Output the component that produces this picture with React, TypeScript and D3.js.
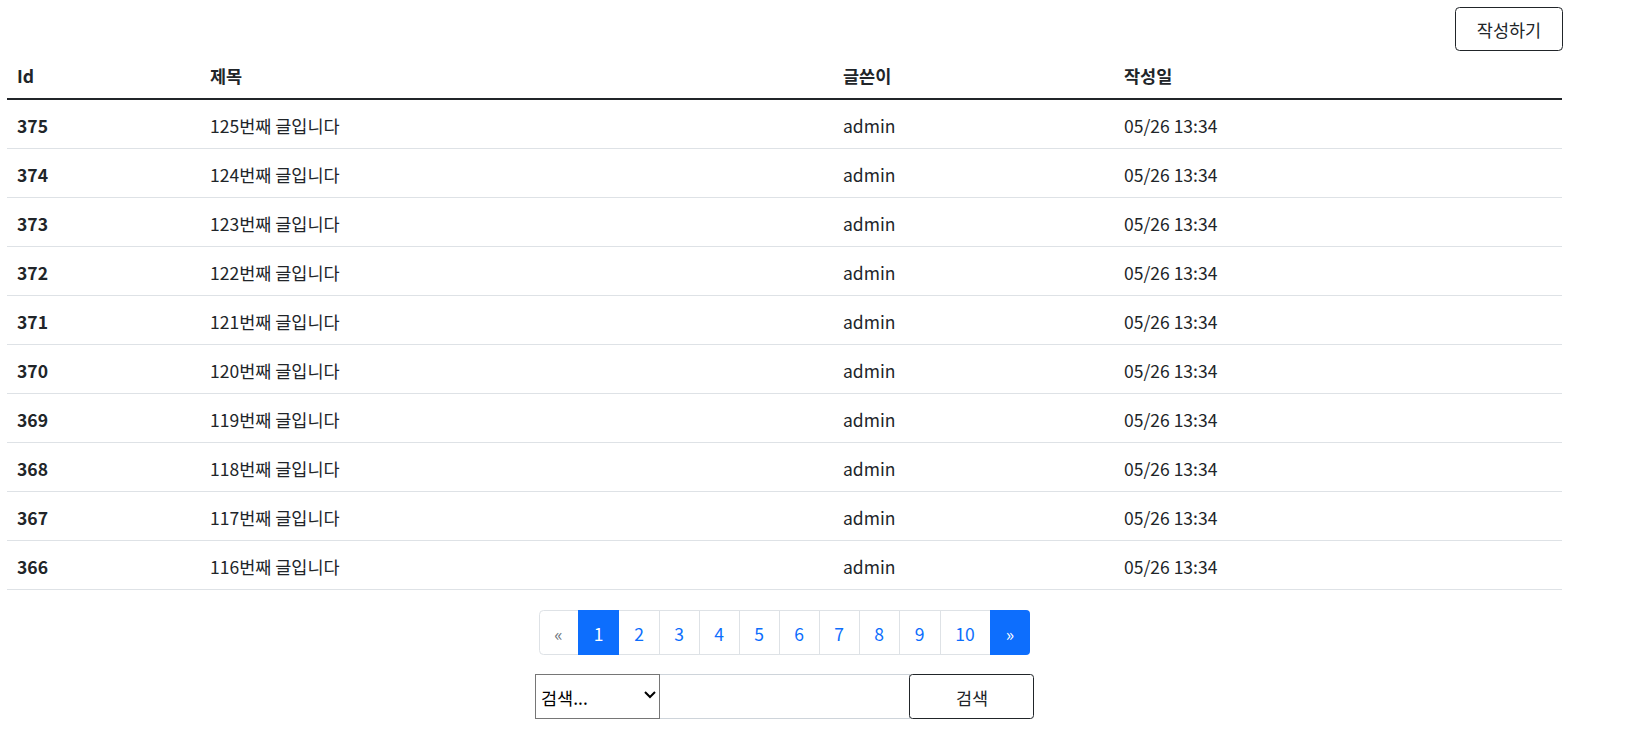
import React from "react";
import * as d3 from "d3";

const ids = [375, 374, 373, 372, 371, 370, 369, 368, 367, 366];
const titles = ["125번째 글입니다","124번째 글입니다","123번째 글입니다","122번째 글입니다","121번째 글입니다","120번째 글입니다","119번째 글입니다","118번째 글입니다","117번째 글입니다","116번째 글입니다"];
const authors = Array(10).fill("admin");
const dates = Array(10).fill("05/26 13:34");
const headers = ["Id", "제목", "글쓴이", "작성일"];
const pages = ["«", "1", "2", "3", "4", "5", "6", "7", "8", "9", "10", "»"];
const pageEdges = [539, 578, 619, 659, 699, 739, 779, 819, 859, 899, 940, 990, 1030];

const F = "'Noto Sans CJK KR', 'Noto Sans', sans-serif";
const colX = [17, 210, 843, 1124];
const FS = 17.5;

export default function App() {
  const y = d3.scaleBand<number>().domain(d3.range(10)).range([100, 590]);
  return (
    <svg width={1633} height={754} viewBox="0 0 1633 754" style={{ position: "absolute", left: 0, top: 0 }} fontFamily={F}>
      <rect x={1455.5} y={7.5} width={107} height={43} rx={4} fill="#fff" stroke="#212529" />
      <text x={1509} y={29} textAnchor="middle" dominantBaseline="central" fontSize={FS} fill="#212529">작성하기</text>
      {headers.map((h, i) => (
        <text key={h} x={colX[i]} y={75} dominantBaseline="central" fontSize={FS} fontWeight="bold" fill="#212529">{h}</text>
      ))}
      <line x1={7} x2={1562} y1={99} y2={99} stroke="#212529" strokeWidth={2} />
      {ids.map((id, i) => {
        const cy = y(i)! + y.bandwidth() / 2 + 1;
        return (
          <g key={id}>
            <text x={colX[0]} y={cy} dominantBaseline="central" fontSize={FS} fontWeight="bold" fill="#212529">{id}</text>
            <text x={colX[1]} y={cy} dominantBaseline="central" fontSize={FS} fill="#212529">{titles[i]}</text>
            <text x={colX[2]} y={cy} dominantBaseline="central" fontSize={FS} fill="#212529">{authors[i]}</text>
            <text x={colX[3]} y={cy} dominantBaseline="central" fontSize={FS} fill="#212529">{dates[i]}</text>
            <line x1={7} x2={1562} y1={y(i)! + y.bandwidth() - 0.5} y2={y(i)! + y.bandwidth() - 0.5} stroke="#dee2e6" />
          </g>
        );
      })}
      <rect x={539.5} y={610.5} width={490} height={44} rx={4} fill="#fff" stroke="#dee2e6" />
      {pages.map((p, i) => {
        const x0 = pageEdges[i], x1 = pageEdges[i + 1];
        const active = i === 1 || i === pages.length - 1;
        return (
          <g key={i}>
            {active && <rect x={x0} y={610} width={x1 - x0} height={45} rx={i === pages.length - 1 ? 4 : 0} fill="#0d6efd" />}
            {active && i === pages.length - 1 && <rect x={x0} y={610} width={6} height={45} fill="#0d6efd" />}
            {i > 0 && !active && i !== 2 && <line x1={x0 + 0.5} x2={x0 + 0.5} y1={611} y2={654} stroke="#dee2e6" />}
            <text x={(x0 + x1) / 2} y={633} textAnchor="middle" dominantBaseline="central" fontSize={FS}
              fill={active ? "#fff" : i === 0 ? "#6c757d" : "#0d6efd"}>{p}</text>
          </g>
        );
      })}
      <line x1={659.5} x2={659.5} y1={611} y2={654} stroke="#dee2e6" />
      <rect x={659.5} y={674.5} width={250} height={44} fill="#fff" stroke="#ced4da" />
      <rect x={535.5} y={674.5} width={124} height={44} fill="#fff" stroke="#767676" />
      <text x={541} y={697} dominantBaseline="central" fontSize={FS} fill="#000">검색...</text>
      <path d="M645,692 l5,5 l5,-5" fill="none" stroke="#000" strokeWidth={2} />
      <rect x={909.5} y={674.5} width={124} height={44} rx={3} fill="#fff" stroke="#212529" />
      <text x={972} y={697} textAnchor="middle" dominantBaseline="central" fontSize={FS} fill="#212529">검색</text>
    </svg>
  );
}
